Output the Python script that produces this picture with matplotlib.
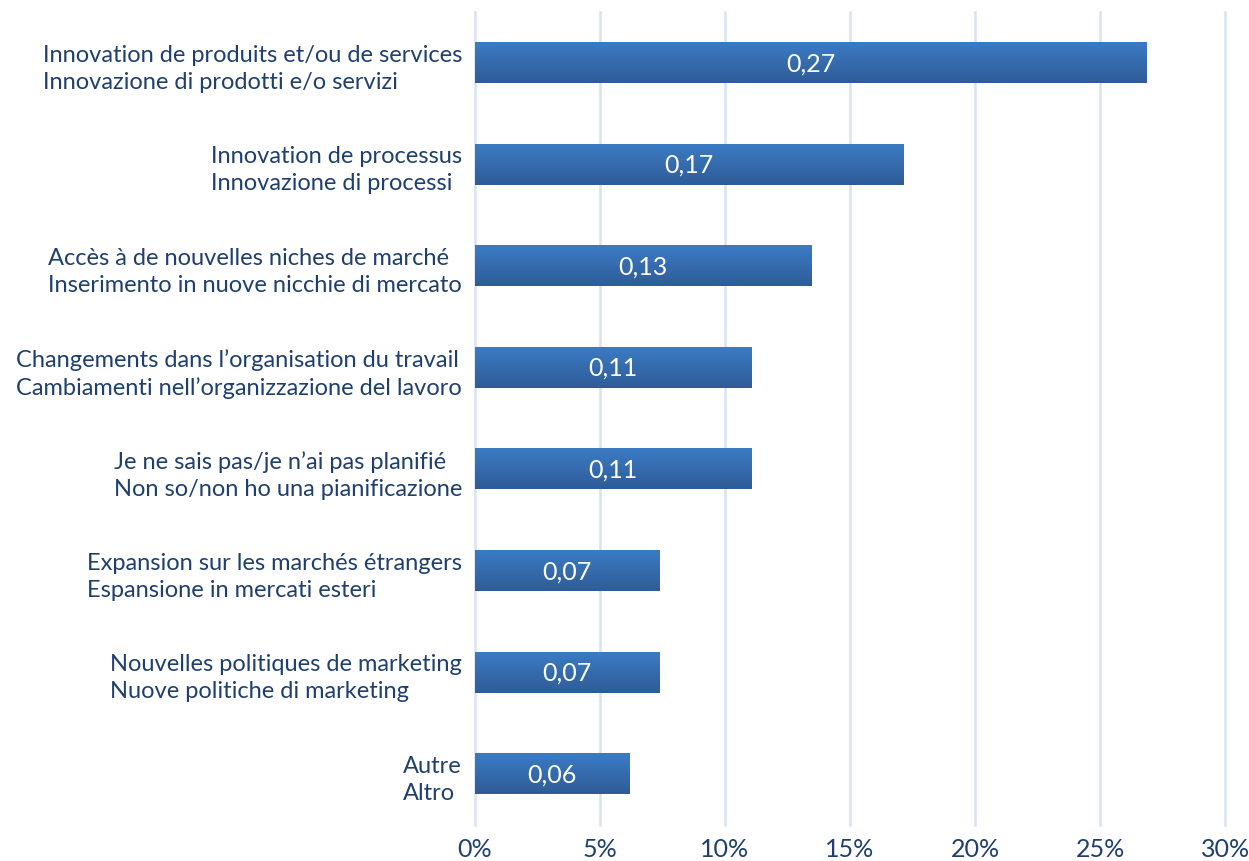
import numpy as np
import matplotlib.pyplot as plt
from matplotlib.colors import LinearSegmentedColormap

categories = [
    "Innovation de produits et/ou de services\nInnovazione di prodotti e/o servizi",
    "Innovation de processus\nInnovazione di processi",
    "Accès à de nouvelles niches de marché \nInserimento in nuove nicchie di mercato",
    "Changements dans l\u2019organisation du travail\nCambiamenti nell\u2019organizzazione del lavoro",
    "Je ne sais pas/je n\u2019ai pas planifié\nNon so/non ho una pianificazione",
    "Expansion sur les marchés étrangers\nEspansione in mercati esteri",
    "Nouvelles politiques de marketing\nNuove politiche di marketing",
    "Autre\nAltro",
]
values = [0.2684, 0.1712, 0.1344, 0.1104, 0.1104, 0.0736, 0.0736, 0.0616]
ticks = [0, 0.05, 0.10, 0.15, 0.20, 0.25, 0.30]
tick_labels = ["0%", "5%", "10%", "15%", "20%", "25%", "30%"]

FONT = ["Lato", "DejaVu Sans"]
TXT = "#1f3f6e"

fig = plt.figure(figsize=(12.49, 8.62), dpi=100)
ax = fig.add_axes([0.380, 0.042, 0.601, 0.943])

y = np.arange(len(categories))
bars = ax.barh(y, values, height=0.40, color="none", zorder=3)

cmap = LinearSegmentedColormap.from_list("g", ["#2f5c97", "#3b7bc4"])
grad = np.linspace(0, 1, 64).reshape(-1, 1)
for b in bars:
    x0, y0 = b.get_x(), b.get_y()
    w, h = b.get_width(), b.get_height()
    ax.imshow(grad, cmap=cmap, aspect="auto", origin="lower",
              extent=(x0, x0 + w, y0 + h, y0), zorder=3)
    ax.text(x0 + w / 2, y0 + h / 2, ("%.2f" % b.get_width()).replace(".", ","),
            ha="center", va="center", color="white", fontsize=18,
            family=FONT, zorder=4)

ax.set_xlim(0, 0.30)
ax.set_ylim(len(categories) - 0.5, -0.5)
ax.set_xticks(ticks)
ax.set_xticklabels(tick_labels, fontsize=18, color=TXT, family=FONT)
ax.set_yticks(y)
ax.set_yticklabels(categories, fontsize=17, color=TXT, family=FONT,
                   ha="right", multialignment="left", linespacing=1.35)
ax.tick_params(length=0, pad=9)
ax.tick_params(axis="x", pad=9)
ax.grid(axis="x", color="#d6e3f3", linewidth=1.8, zorder=0)
for gl in ax.get_xgridlines():
    gl.set_clip_on(False)
for s in ax.spines.values():
    s.set_visible(False)

fig.savefig("out.png", dpi=100)
